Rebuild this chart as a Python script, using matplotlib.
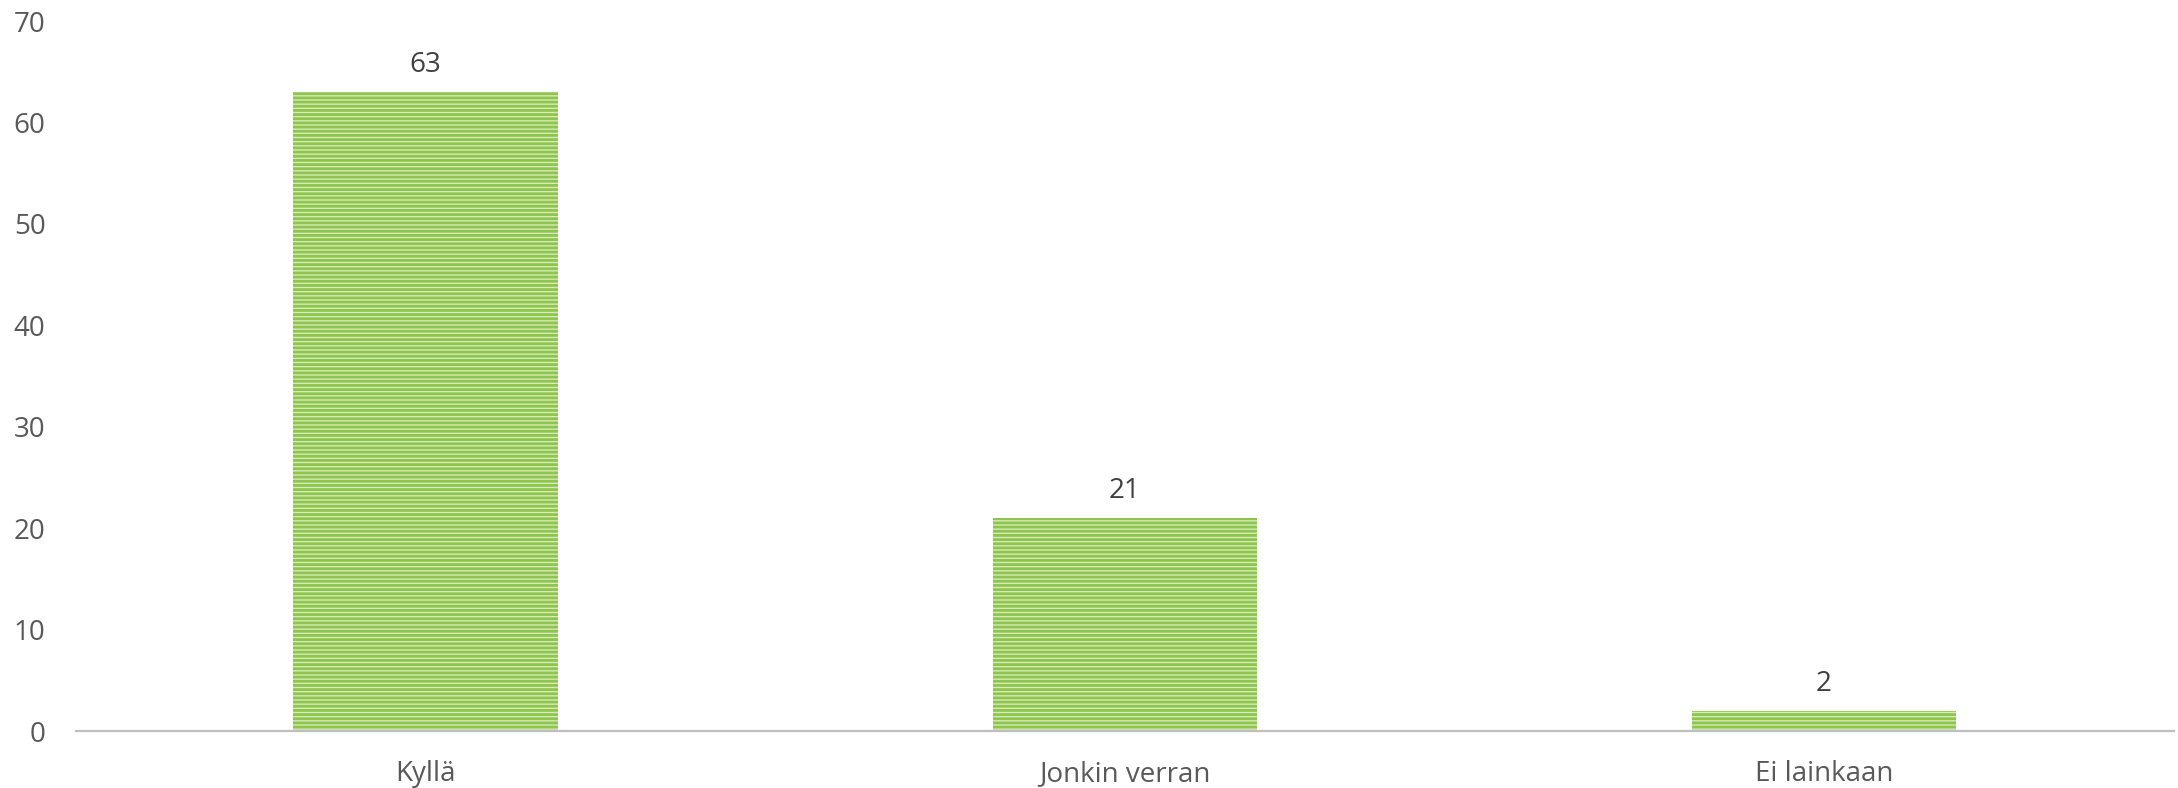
import matplotlib
matplotlib.use("Agg")
import matplotlib.pyplot as plt

categories = ["Kyllä", "Jonkin verran", "Ei lainkaan"]
values = [63, 21, 2]
y_ticks = [0, 10, 20, 30, 40, 50, 60, 70]

plt.rcParams['font.family'] = ['Open Sans', 'DejaVu Sans']
plt.rcParams['hatch.linewidth'] = 2.0

fig = plt.figure(figsize=(21.78, 7.88), dpi=100)
ax = fig.add_axes([0.0349, 0.0723, 0.9631, 0.901])

x = range(len(categories))
bars = ax.bar(x, values, width=0.378, color="#d6eabd", edgecolor="#8dc64a",
              linewidth=0, hatch="----")

for b, v in zip(bars, values):
    ax.text(b.get_x() + b.get_width() / 2, v + 1.25, str(v), ha="center", va="bottom",
            fontsize=20, color="#404040")

ax.set_xlim(-0.5, 2.5)
ax.set_ylim(0, 70)
ax.set_yticks(y_ticks)
ax.set_xticks(list(x))
ax.set_xticklabels(categories)
ax.tick_params(axis="both", length=0, labelsize=20, colors="#595959")
ax.tick_params(axis="y", pad=22)
ax.tick_params(axis="x", pad=21)

for s in ["top", "right", "left"]:
    ax.spines[s].set_visible(False)
ax.spines["bottom"].set_color("#bfbfbf")
ax.spines["bottom"].set_linewidth(1.6)

fig.savefig("out.png", dpi=100)
